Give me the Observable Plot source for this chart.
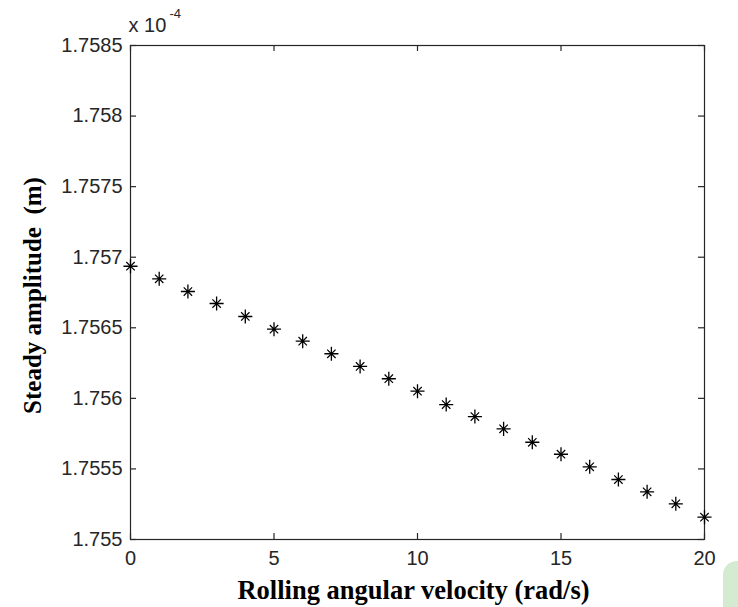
<!DOCTYPE html>
<html>
<head>
<meta charset="utf-8">
<script src="https://cdn.jsdelivr.net/npm/d3@7"></script>
<script src="https://cdn.jsdelivr.net/npm/@observablehq/plot@0.6"></script>
<style>
  html, body { margin: 0; padding: 0; background: #fff; }
  #chart { position: relative; width: 738px; height: 607px; overflow: hidden; }
  #chart svg text { white-space: pre; }
  #deco { position: absolute; left: 723px; top: 561px; width: 15px; height: 46px;
          background: #d4ebd2; border-top-left-radius: 14px; }
</style>
</head>
<body>
<div id="chart"><div id="deco"></div></div>
<script>
// Rolling angular velocity (rad/s)
const velocity = [0, 1, 2, 3, 4, 5, 6, 7, 8, 9, 10, 11, 12, 13, 14, 15, 16, 17, 18, 19, 20];
// Steady amplitude (m), in units of 1e-4
const amplitude = [1.756936, 1.756847, 1.756757, 1.756672, 1.756580, 1.756490, 1.756405,
                   1.756316, 1.756226, 1.756139, 1.756051, 1.755956, 1.755871, 1.755784,
                   1.755689, 1.755604, 1.755515, 1.755425, 1.755338, 1.755253, 1.755158];
const xTicks = [0, 5, 10, 15, 20];
const yTicks = [1.755, 1.7555, 1.756, 1.7565, 1.757, 1.7575, 1.758, 1.7585];
const yTickLabels = ["1.755", "1.7555", "1.756", "1.7565", "1.757", "1.7575", "1.758", "1.7585"];
const xLabel = "Rolling angular velocity (rad/s)";
const yLabel = "Steady amplitude  (m)";
const exponentBase = "x 10";
const exponentPower = "-4";

const data = velocity.map((v, i) => ({v, a: amplitude[i]}));
const ink = "#262626";
const serif = "'Liberation Serif', 'Times New Roman', serif";
const W = 738, H = 607, ML = 130, MR = 34, MT = 45, MB = 68;
const frameW = W - ML - MR, frameH = H - MT - MB, tick = 6;

const chart = Plot.plot({
  width: W,
  height: H,
  marginLeft: ML,
  marginRight: MR,
  marginTop: MT,
  marginBottom: MB,
  style: {fontFamily: "'Liberation Sans', Arial, sans-serif", fontSize: "20px", color: ink, background: "#fff"},
  x: {domain: [0, 20], ticks: xTicks},
  y: {domain: [1.755, 1.7585], ticks: yTicks},
  marks: [
    Plot.frame({stroke: ink, strokeWidth: 1.2}),
    // inward tick marks on all four sides
    Plot.tickX(xTicks, {x: (d) => d, insetTop: frameH - tick, stroke: ink, strokeWidth: 1.2}),
    Plot.tickX(xTicks, {x: (d) => d, insetBottom: frameH - tick, stroke: ink, strokeWidth: 1.2}),
    Plot.tickY(yTicks, {y: (d) => d, insetRight: frameW - tick, stroke: ink, strokeWidth: 1.2}),
    Plot.tickY(yTicks, {y: (d) => d, insetLeft: frameW - tick, stroke: ink, strokeWidth: 1.2}),
    Plot.axisX(xTicks, {anchor: "bottom", tickSize: 0, tickPadding: 11, label: null, fontSize: 20, fill: ink}),
    Plot.axisY(yTicks, {anchor: "left", tickSize: 0, tickPadding: 8, label: null, fontSize: 20, fill: ink,
      tickFormat: (d) => yTickLabels[yTicks.indexOf(d)]}),
    Plot.dot(data, {x: "v", y: "a", symbol: "plus", r: 4.6, stroke: "#000", strokeWidth: 1.3}),
    Plot.dot(data, {x: "v", y: "a", symbol: "times", r: 3.9, stroke: "#000", strokeWidth: 1.2}),
    Plot.dot(data, {x: "v", y: "a", r: 1.6, fill: "#000", stroke: null}),
    Plot.text([xLabel], {frameAnchor: "bottom", dy: 51, dx: -4, textAnchor: "middle", lineAnchor: "middle",
      fontFamily: serif, fontWeight: "bold", fontSize: 26.5, fill: "#000"}),
    Plot.text([yLabel], {frameAnchor: "left", dx: -98, dy: 3, rotate: -90, textAnchor: "middle", lineAnchor: "middle",
      fontFamily: serif, fontWeight: "bold", fontSize: 25, fill: "#000"}),
    Plot.text([exponentBase], {frameAnchor: "top-left", dx: -2, dy: -13.5, textAnchor: "start",
      lineAnchor: "bottom", fontSize: 20, fill: ink}),
    Plot.text([exponentPower], {frameAnchor: "top-left", dx: 39, dy: -28, textAnchor: "start",
      lineAnchor: "bottom", fontSize: 13, fill: ink})
  ]
});
document.getElementById("chart").prepend(chart);
</script>
</body>
</html>
